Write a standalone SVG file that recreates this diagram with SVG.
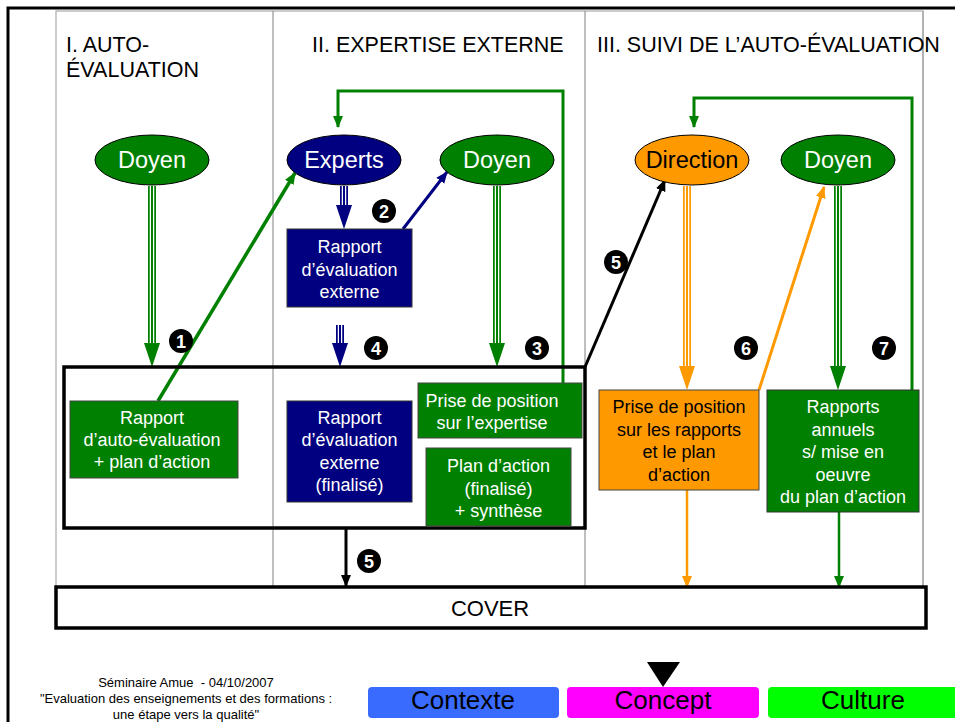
<svg xmlns="http://www.w3.org/2000/svg" width="955" height="722" viewBox="0 0 955 722">
<style>
text{font-family:"Liberation Sans",Arial,sans-serif}
.hd{font-size:21.5px;fill:#000}
.el{font-size:23.5px;text-anchor:middle}
.bx{font-size:18px;text-anchor:middle}
.w{fill:#fff}
.k{fill:#000}
.g{fill:#008000}
.n{fill:#000080}
.o{fill:#ff9900}
.num circle{fill:#000}
.num text{fill:#fff;font-size:18px;font-weight:bold;text-anchor:middle}
.foot{font-size:13px;text-anchor:middle;fill:#000;white-space:pre}
.btn{font-size:26px;text-anchor:middle;fill:#000}
</style>
<defs>
<marker id="ag" markerUnits="userSpaceOnUse" markerWidth="12" markerHeight="12" viewBox="0 0 12 12" refX="11" refY="6" orient="auto"><path d="M0,1 L12,6 L0,11 Z" fill="#008000"/></marker>
<marker id="an" markerUnits="userSpaceOnUse" markerWidth="12" markerHeight="12" viewBox="0 0 12 12" refX="11" refY="6" orient="auto"><path d="M0,1 L12,6 L0,11 Z" fill="#000080"/></marker>
<marker id="ak" markerUnits="userSpaceOnUse" markerWidth="12" markerHeight="12" viewBox="0 0 12 12" refX="11" refY="6" orient="auto"><path d="M0,1 L12,6 L0,11 Z" fill="#000"/></marker>
<marker id="ao" markerUnits="userSpaceOnUse" markerWidth="12" markerHeight="12" viewBox="0 0 12 12" refX="11" refY="6" orient="auto"><path d="M0,1 L12,6 L0,11 Z" fill="#ff9900"/></marker>
</defs>
<rect width="955" height="722" fill="#fff"/>
<!-- frame -->
<path d="M8,722 L8,8 L955,8" fill="none" stroke="#000" stroke-width="3"/>
<!-- columns -->
<g id="columns">
<rect x="56" y="11" width="867" height="576" fill="none" stroke="#aaa" stroke-width="1.2"/>
<line x1="273" y1="11" x2="273" y2="587" stroke="#808080" stroke-width="1"/>
<line x1="585" y1="11" x2="585" y2="587" stroke="#808080" stroke-width="1"/>
<line x1="923" y1="11" x2="923" y2="587" stroke="#999" stroke-width="1"/>
<text class="hd" x="66" y="52">I. AUTO-</text>
<text class="hd" x="66" y="77">ÉVALUATION</text>
<text class="hd" x="312" y="52">II. EXPERTISE EXTERNE</text>
<text class="hd" x="597" y="52">III. SUIVI DE L’AUTO-ÉVALUATION</text>
</g>
<!-- connectors -->
<g id="connectors" fill="none">
<g stroke="#008000"><line x1="152" y1="186" x2="152" y2="345" stroke-width="8"/><line x1="152" y1="186" x2="152" y2="345" stroke="#fff" stroke-width="4.5"/><line x1="152" y1="186" x2="152" y2="345" stroke-width="2"/></g>
<polygon points="144,343 160,343 152,367" fill="#008000"/>
<g stroke="#000080"><line x1="344" y1="186" x2="344" y2="207" stroke-width="8"/><line x1="344" y1="186" x2="344" y2="207" stroke="#fff" stroke-width="4.5"/><line x1="344" y1="186" x2="344" y2="207" stroke-width="2"/></g>
<polygon points="336,205 352,205 344,229" fill="#000080"/>
<g stroke="#000080"><line x1="340" y1="325" x2="340" y2="345" stroke-width="8"/><line x1="340" y1="325" x2="340" y2="345" stroke="#fff" stroke-width="4.5"/><line x1="340" y1="325" x2="340" y2="345" stroke-width="2"/></g>
<polygon points="332,343 348,343 340,367" fill="#000080"/>
<g stroke="#008000"><line x1="497" y1="186" x2="497" y2="345" stroke-width="8"/><line x1="497" y1="186" x2="497" y2="345" stroke="#fff" stroke-width="4.5"/><line x1="497" y1="186" x2="497" y2="345" stroke-width="2"/></g>
<polygon points="489,343 505,343 497,367" fill="#008000"/>
<g stroke="#ff9900"><line x1="687" y1="186" x2="687" y2="368" stroke-width="8"/><line x1="687" y1="186" x2="687" y2="368" stroke="#fff" stroke-width="4.5"/><line x1="687" y1="186" x2="687" y2="368" stroke-width="2"/></g>
<polygon points="679,366 695,366 687,390" fill="#ff9900"/>
<g stroke="#008000"><line x1="838" y1="186" x2="838" y2="368" stroke-width="8"/><line x1="838" y1="186" x2="838" y2="368" stroke="#fff" stroke-width="4.5"/><line x1="838" y1="186" x2="838" y2="368" stroke-width="2"/></g>
<polygon points="830,366 846,366 838,390" fill="#008000"/>
<polyline points="563,384 563,91 338,91 338,127" stroke="#008000" stroke-width="3" marker-end="url(#ag)"/>
<polyline points="912,391 912,98 694,98 694,127" stroke="#008000" stroke-width="3" marker-end="url(#ag)"/>
<line x1="158" y1="401" x2="295" y2="173" stroke="#008000" stroke-width="3.5" marker-end="url(#ag)"/>
<line x1="403" y1="229" x2="447" y2="172" stroke="#000080" stroke-width="3" marker-end="url(#an)"/>
<line x1="585" y1="367" x2="665" y2="180" stroke="#000" stroke-width="3" marker-end="url(#ak)"/>
<line x1="759" y1="390" x2="824" y2="187" stroke="#ff9900" stroke-width="3" marker-end="url(#ao)"/>
<line x1="346" y1="528" x2="346" y2="586" stroke="#000" stroke-width="3" marker-end="url(#ak)"/>
<line x1="687" y1="490" x2="687" y2="587" stroke="#ff9900" stroke-width="2.5" marker-end="url(#ao)"/>
<line x1="839" y1="512" x2="839" y2="587" stroke="#008000" stroke-width="2.5" marker-end="url(#ag)"/>
</g>
<!-- group frame -->
<rect id="group-box" x="64" y="367" width="521" height="161" fill="none" stroke="#000" stroke-width="3.5"/>
<!-- nodes -->
<g id="doyen1"><ellipse cx="152" cy="160" rx="57" ry="25" class="g" stroke="#000" stroke-width="1"/><text class="el w" x="152" y="168">Doyen</text></g>
<g id="experts"><ellipse cx="344" cy="160" rx="57" ry="25" class="n" stroke="#000" stroke-width="1"/><text class="el w" x="344" y="168">Experts</text></g>
<g id="doyen2"><ellipse cx="497" cy="160" rx="57" ry="25" class="g" stroke="#000" stroke-width="1"/><text class="el w" x="497" y="168">Doyen</text></g>
<g id="direction"><ellipse cx="692" cy="160" rx="57" ry="25" class="o" stroke="#000" stroke-width="1"/><text class="el k" x="692" y="168">Direction</text></g>
<g id="doyen3"><ellipse cx="838" cy="160" rx="57" ry="25" class="g" stroke="#000" stroke-width="1"/><text class="el w" x="838" y="168">Doyen</text></g>
<g id="rapport-externe"><rect x="287" y="229" width="125" height="78" class="n" stroke="#333" stroke-width="1"/><text class="bx w" x="349.5"><tspan x="349.5" y="253">Rapport</tspan><tspan x="349.5" y="276">d’évaluation</tspan><tspan x="349.5" y="298">externe</tspan></text></g>
<g id="rapport-auto"><rect x="70" y="401" width="168" height="77" class="g" stroke="#444" stroke-width="1"/><text class="bx w" x="152"><tspan x="152" y="424">Rapport</tspan><tspan x="152" y="446">d’auto-évaluation</tspan><tspan x="152" y="468">+ plan d’action</tspan></text></g>
<g id="rapport-externe-final"><rect x="287" y="401" width="125" height="101" class="n" stroke="#333" stroke-width="1"/><text class="bx w" x="349.5"><tspan x="349.5" y="424">Rapport</tspan><tspan x="349.5" y="446">d’évaluation</tspan><tspan x="349.5" y="469">externe</tspan><tspan x="349.5" y="491">(finalisé)</tspan></text></g>
<g id="prise-expertise"><rect x="418" y="383" width="164" height="55" class="g" stroke="#444" stroke-width="1"/><text class="bx w" x="492"><tspan x="492" y="407">Prise de position</tspan><tspan x="492" y="429">sur l’expertise</tspan></text></g>
<g id="plan-action"><rect x="426" y="448" width="145" height="78" class="g" stroke="#444" stroke-width="1"/><text class="bx w" x="498.5"><tspan x="498.5" y="472">Plan d’action</tspan><tspan x="498.5" y="495">(finalisé)</tspan><tspan x="498.5" y="517">+ synthèse</tspan></text></g>
<g id="prise-rapports"><rect x="599" y="390" width="160" height="100" class="o" stroke="#444" stroke-width="1"/><text class="bx k" x="679"><tspan x="679" y="413">Prise de position</tspan><tspan x="679" y="436">sur les rapports</tspan><tspan x="679" y="458">et le plan</tspan><tspan x="679" y="481">d’action</tspan></text></g>
<g id="rapports-annuels"><rect x="767" y="390" width="152" height="122" class="g" stroke="#333" stroke-width="1"/><text class="bx w" x="843"><tspan x="843" y="413">Rapports</tspan><tspan x="843" y="436">annuels</tspan><tspan x="843" y="458">s/ mise en</tspan><tspan x="843" y="481">oeuvre</tspan><tspan x="843" y="503">du plan d’action</tspan></text></g>
<g id="cover"><rect x="56" y="587" width="870" height="41" fill="#fff" stroke="#000" stroke-width="3.5"/><text x="490" y="616" font-size="22" text-anchor="middle">COVER</text></g>
<!-- numbers -->
<g class="num">
<g id="n1"><circle cx="181" cy="341" r="12"/><text x="181" y="347.5">1</text></g>
<g id="n2"><circle cx="384" cy="211" r="12"/><text x="384" y="217.5">2</text></g>
<g id="n3"><circle cx="537" cy="348" r="12"/><text x="537" y="354.5">3</text></g>
<g id="n4"><circle cx="376" cy="348" r="12"/><text x="376" y="354.5">4</text></g>
<g id="n5a"><circle cx="616" cy="262" r="12"/><text x="616" y="268.5">5</text></g>
<g id="n5b"><circle cx="369" cy="561" r="12"/><text x="369" y="567.5">5</text></g>
<g id="n6"><circle cx="746" cy="348" r="12"/><text x="746" y="354.5">6</text></g>
<g id="n7"><circle cx="884" cy="348" r="12"/><text x="884" y="354.5">7</text></g>
</g>
<!-- footer -->
<g id="footer">
<text class="foot" x="186" y="687">Séminaire Amue  - 04/10/2007</text>
<text class="foot" x="186" y="703">"Evaluation des enseignements et des formations :</text>
<text class="foot" x="186" y="719">une étape vers la qualité"</text>
</g>
<g id="nav">
<rect x="368" y="687" width="191" height="31" rx="4" fill="#3a6bff"/>
<text class="btn" x="463" y="709">Contexte</text>
<rect x="567" y="687" width="192" height="31" rx="4" fill="#ff00ff"/>
<text class="btn" x="663" y="709">Concept</text>
<rect x="768" y="687" width="195" height="31" rx="4" fill="#00ff00"/>
<text class="btn" x="863" y="709">Culture</text>
<polygon points="647,662 680,662 663,687" fill="#000"/>
</g>
</svg>
